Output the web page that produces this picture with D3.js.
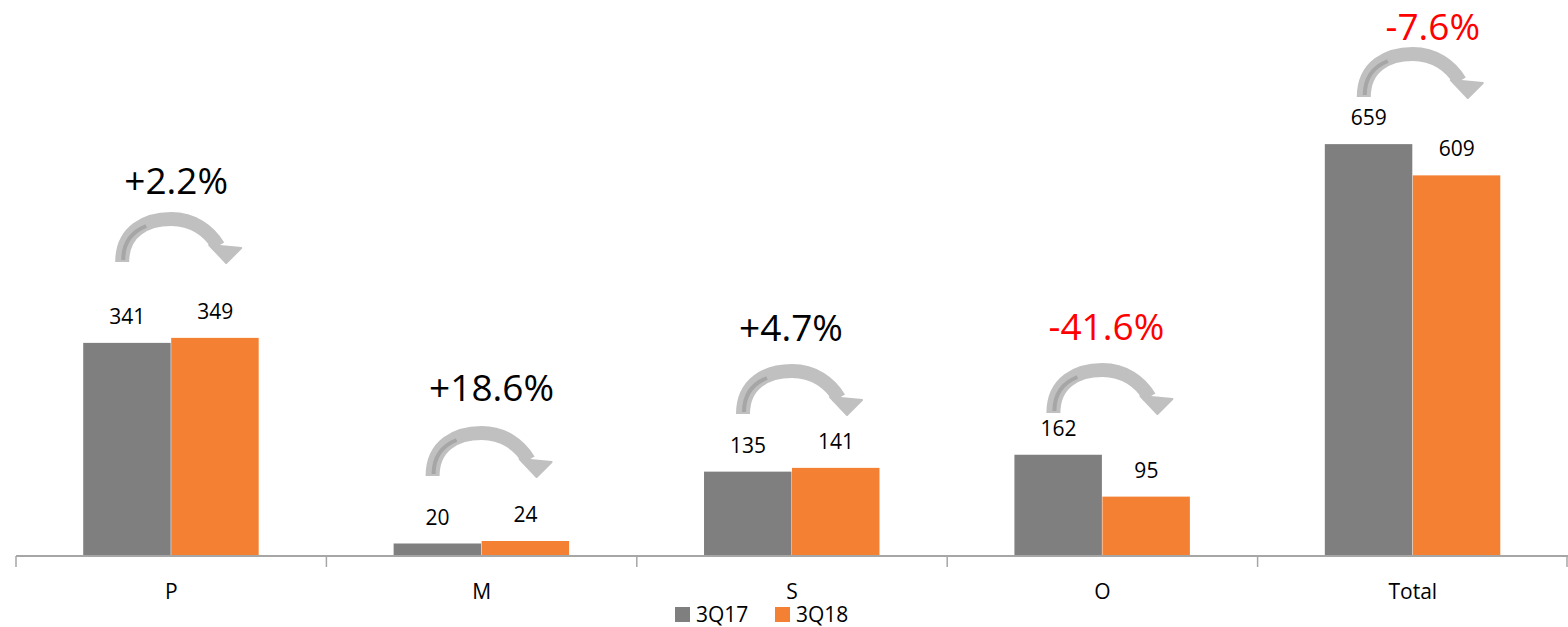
<!DOCTYPE html>
<html>
<head>
<meta charset="utf-8">
<script src="https://cdn.jsdelivr.net/npm/d3@7"></script>
<style>
  body { margin: 0; background: #fff; }
  svg { display: block; font-family: "Open Sans", "Noto Sans", sans-serif; }
</style>
</head>
<body>
<main></main>
<script>
const categories = ["P", "M", "S", "O", "Total"];
const series = ["3Q17", "3Q18"];
const values3Q17 = [341, 20, 135, 162, 659];
const values3Q18 = [349, 24, 141, 95, 609];
const changeLabels = ["+2.2%", "+18.6%", "+4.7%", "-41.6%", "-7.6%"];

// annotation placement (pixels), one per category
const pctY = [181, 388, 328, 327, 27];
const pctDx = [5, 10, -1, 4, 20];
const arrowTop = [213, 427, 365, 364, 48];

const width = 1568;
const height = 627;
const margin = {left: 16, right: 0, bottom: 71};
const colors = {"3Q17": "#7f7f7f", "3Q18": "#f38033"};

const svg = d3.select("main")
    .append("svg")
        .attr("width", width)
        .attr("height", height);

const x = d3.scaleBand()
    .domain(categories)
    .range([margin.left, width - margin.right])
    .padding(0);
const xs = d3.scaleBand()
    .domain(series)
    .range([0, x.bandwidth()])
    .paddingInner(0)
    .paddingOuter(0.764);
const y = d3.scaleLinear()
    .domain([0, 800])
    .range([height - margin.bottom, height - margin.bottom - 500]);

const rows = categories.map((c, i) => ({
    cat: c,
    vals: [
        {s: "3Q17", v: values3Q17[i]},
        {s: "3Q18", v: values3Q18[i]}
    ],
    pct: changeLabels[i],
    i
}));

const groups = svg.append("g")
    .selectAll("g")
    .data(rows)
    .join("g")
        .attr("transform", d => `translate(${x(d.cat)},0)`);

groups.selectAll("rect")
    .data(d => d.vals)
    .join("rect")
        .attr("x", d => xs(d.s))
        .attr("y", d => y(d.v))
        .attr("width", xs.bandwidth() - 0.5)
        .attr("height", d => y(0) - y(d.v))
        .attr("fill", d => colors[d.s]);

groups.selectAll("text.val")
    .data(d => d.vals)
    .join("text")
        .attr("class", "val")
        .attr("x", d => xs(d.s) + xs.bandwidth() / 2)
        .attr("y", d => y(d.v) - 19)
        .attr("text-anchor", "middle")
        .attr("font-size", 21)
        .attr("fill", "#000")
        .text(d => d.v);

// curved arrows
const arrows = groups.append("g")
    .attr("transform", d => `translate(${x.bandwidth() / 2 - 58},${arrowTop[d.i]})`);
arrows.append("path")
    .attr("d", "M9,49 C9,18 33,6 58,6 C80,6 96,18 105,33")
    .attr("fill", "none")
    .attr("stroke", "#c0c0c0")
    .attr("stroke-width", 14);
arrows.append("path")
    .attr("d", "M96,32 L128,35 L113,50 Z")
    .attr("fill", "#c0c0c0")
    .attr("stroke", "#c0c0c0")
    .attr("stroke-width", 2)
    .attr("stroke-linejoin", "round");
arrows.append("path")
    .attr("d", "M10,47 C10,30 18,19 33,13")
    .attr("fill", "none")
    .attr("stroke", "#a6a6a6")
    .attr("stroke-width", 4);

groups.append("text")
    .attr("x", d => x.bandwidth() / 2 + pctDx[d.i])
    .attr("y", d => pctY[d.i] + 13)
    .attr("text-anchor", "middle")
    .attr("font-size", 37)
    .attr("fill", d => d.pct.startsWith("-") ? "#ff0000" : "#000")
    .text(d => d.pct);

// category axis
const axis = svg.append("g")
    .attr("transform", `translate(0,${y(0)})`);
axis.append("line")
    .attr("x1", margin.left)
    .attr("x2", width - margin.right)
    .attr("stroke", "#a6a6a6")
    .attr("stroke-width", 2);
axis.selectAll("line.tick")
    .data(categories.map(c => x(c)).concat([width - margin.right - 1]))
    .join("line")
        .attr("class", "tick")
        .attr("x1", d => d)
        .attr("x2", d => d)
        .attr("y1", 0)
        .attr("y2", 11)
        .attr("stroke", "#a6a6a6")
        .attr("stroke-width", 1.5);
axis.selectAll("text")
    .data(categories)
    .join("text")
        .attr("x", d => x(d) + x.bandwidth() / 2)
        .attr("y", 43)
        .attr("text-anchor", "middle")
        .attr("font-size", 21)
        .attr("fill", "#000")
        .text(d => d);

// legend
const legend = svg.append("g")
    .attr("transform", "translate(675,607)");
const items = legend.selectAll("g")
    .data(series)
    .join("g")
        .attr("transform", (d, i) => `translate(${i * 100},0)`);
items.append("rect")
    .attr("width", 15)
    .attr("height", 15)
    .attr("fill", d => colors[d]);
items.append("text")
    .attr("x", 21)
    .attr("y", 15)
    .attr("font-size", 21)
    .attr("fill", "#000")
    .text(d => d);
</script>
</body>
</html>
